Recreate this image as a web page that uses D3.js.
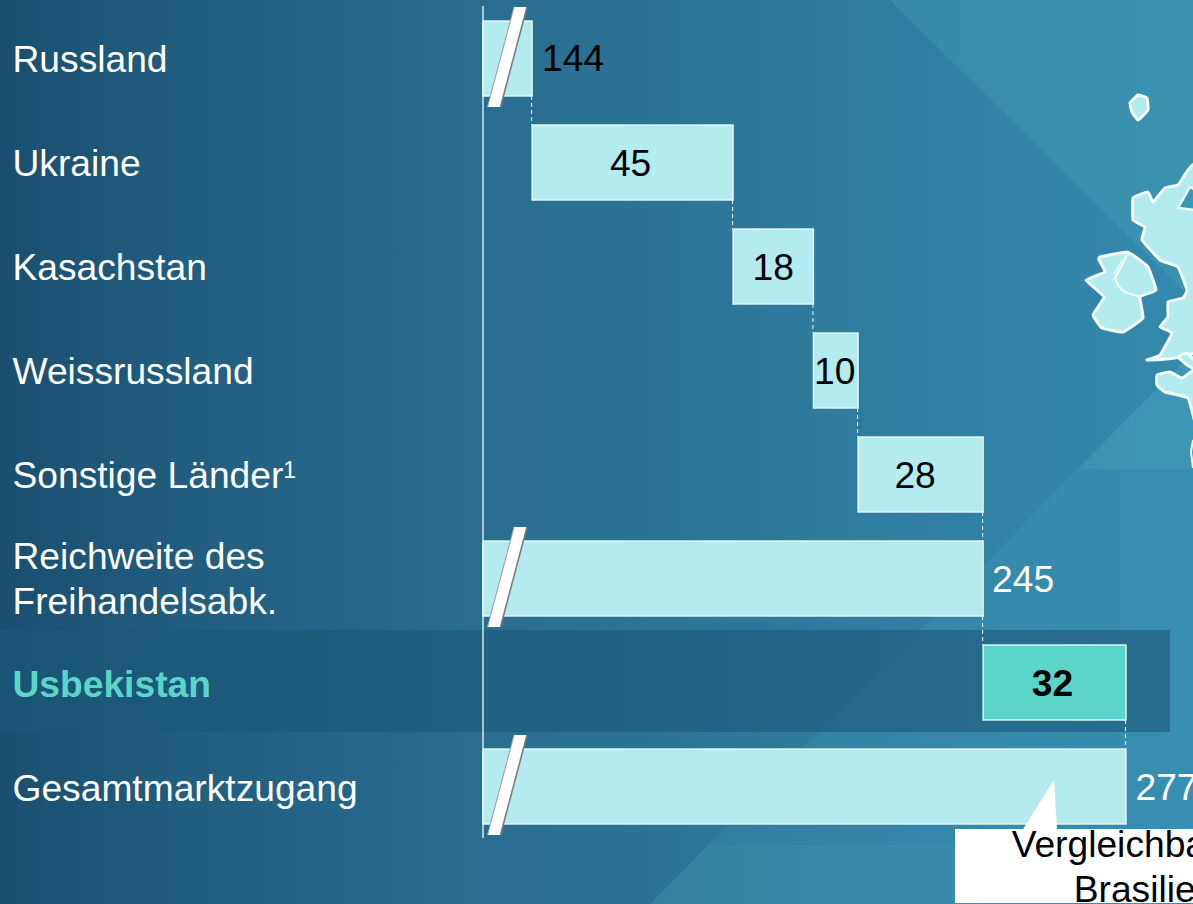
<!DOCTYPE html>
<html><head><meta charset="utf-8">
<script src="https://cdn.jsdelivr.net/npm/d3@7"></script>
<style>html,body{margin:0;padding:0;overflow:hidden;background:#2a7797}svg{display:block}text{font-family:"Liberation Sans",Arial,sans-serif}</style>
</head><body><svg id="c" width="1193" height="904"></svg>
<script>
const categories=["Russland","Ukraine","Kasachstan","Weissrussland","Sonstige Länder","Reichweite des|Freihandelsabk.","Usbekistan","Gesamtmarktzugang"];
const starts=[null,144,189,207,217,null,245,null];
const values=[144,45,18,10,28,245,32,277];
const broken=[true,false,false,false,false,true,false,true];
const outside=[true,false,false,false,false,true,false,true];
const labelColor=["#000","#000","#000","#000","#000","#fff","#000","#fff"];
const labelShift=[10,-2,0,-1,-5.5,9,-2,9.5];
const axisDomain=[133,277];
const noteLines=["Vergleichbar mit","Brasilien"];

const W=1193,H=904,FS=37.2;
const svg=d3.select("#c");
const defs=svg.append("defs");
const g=defs.append("linearGradient").attr("id","bg").attr("x1",0).attr("x2",1).attr("y1",0).attr("y2",0);
[[0,"#1a4e6e"],[0.15,"#215d7f"],[0.4,"#296d8f"],[0.55,"#2b7495"],[0.85,"#3283a6"],[1,"#3489ac"]].forEach(d=>g.append("stop").attr("offset",d[0]).attr("stop-color",d[1]));
svg.append("rect").attr("width",W).attr("height",H).attr("fill","url(#bg)");
const facet=(p,f,o)=>svg.append("path").attr("d",p).attr("fill",f).attr("opacity",o);
facet("M890,0L1193,0L1193,300Z","#5fc4c8",0.18);
facet("M1193,352L1193,904L650,904Z","#4fb0d0",0.16);
facet("M1193,352L1193,469L1078,469Z","#5fc4c8",0.14);
facet("M770,845L1193,845L1193,904L650,904L708,845Z","#6fc0b8",0.07);

const x=d3.scaleLinear().domain(axisDomain).range([483,1126]);
const y=d3.scaleBand().domain(d3.range(categories.length)).range([21,824]).paddingInner(29/104).paddingOuter(0);
const bh=y.bandwidth();

svg.append("rect").attr("x",0).attr("y",630).attr("width",1170).attr("height",102).attr("fill","#1d5878").attr("opacity",0.6);

const mapShapes=[
[[1130,103],[1138,95],[1147,98],[1148,110],[1138,120],[1132,112]],
[[1100,257],[1127,252],[1137,258],[1148,267],[1156,290],[1140,297],[1143,318],[1123,332],[1102,328],[1093,315],[1104,297],[1086,280],[1105,272],[1099,260]],
[[1196,168],[1188,170],[1178,185],[1165,188],[1153,202],[1148,192],[1133,198],[1133,220],[1145,227],[1142,240],[1160,260],[1178,267],[1187,290],[1183,298],[1168,302],[1168,317],[1160,327],[1172,333],[1160,355],[1147,360],[1196,350]],
[[1157,375],[1170,372],[1182,378],[1196,370],[1196,425],[1188,398],[1165,392],[1157,385]],
[[1178,357],[1187,353],[1196,362],[1196,370],[1187,365]]
];
const closed=d3.line().curve(d3.curveCardinalClosed.tension(0.7));
svg.append("g").selectAll("path").data(mapShapes).join("path").attr("d",d=>closed(d)).attr("fill","#b4ebee").attr("stroke","#f4fcfc").attr("stroke-width",3).attr("stroke-linejoin","round");
svg.append("path").attr("d","M1178,208L1190,187L1196,190L1196,210Z").attr("fill","#3a97b5").attr("stroke","#f4fcfc").attr("stroke-width",2.5).attr("stroke-linejoin","round");
svg.append("path").attr("d","M1127,255L1115,278Q1118,288 1125,292L1140,297").attr("stroke","#f4fcfc").attr("stroke-width",2.2).attr("fill","none");
svg.append("path").attr("d","M1122,260L1114,274").attr("stroke","#f4fcfc").attr("stroke-width",1.2).attr("fill","none");
svg.append("path").attr("d","M1193,440L1191,452L1193,468").attr("stroke","#f4fcfc").attr("stroke-width",2).attr("fill","none");

const ends=values.map((v,i)=>(starts[i]===null?v:starts[i]+v));
d3.range(categories.length-1).forEach(i=>{
  svg.append("line").attr("x1",x(ends[i])-0.5).attr("x2",x(ends[i])-0.5).attr("y1",y(i)+bh).attr("y2",y(i+1))
   .attr("stroke","#e6f6f8").attr("stroke-width",1).attr("stroke-dasharray","4 3");
});

const rowData=categories.map((c,i)=>({c,i}));
svg.append("g").selectAll("rect").data(rowData).join("rect")
 .attr("x",d=>x(starts[d.i]===null?axisDomain[0]:starts[d.i]))
 .attr("y",d=>y(d.i)).attr("height",bh)
 .attr("width",d=>x(ends[d.i])-x(starts[d.i]===null?axisDomain[0]:starts[d.i]))
 .attr("fill",d=>d.i===6?"#5bd5ca":"#b4ebee").attr("stroke","#e8f8f8").attr("stroke-width",1.4);

svg.append("line").attr("x1",483).attr("x2",483).attr("y1",6).attr("y2",838).attr("stroke","#eef6f8").attr("stroke-width",1.3);

rowData.filter(d=>broken[d.i]).forEach(d=>{
  const t=y(d.i)-14;
  svg.append("path").attr("d",`M514,${t}L527,${t}L500.5,${t+100}L487.5,${t+100}Z`).attr("fill","#fff");
  svg.append("path").attr("d",`M527,${t}L500.5,${t+100}`).attr("stroke","#7e7e7e").attr("stroke-width",1.6).attr("fill","none");
  svg.append("path").attr("d",`M514,${t}L487.5,${t+100}`).attr("stroke","#9a9a9a").attr("stroke-width",1).attr("fill","none");
});

rowData.forEach(d=>{
  const lines=d.c.split("|");
  const cy=y(d.i)+bh/2;
  const t=svg.append("text").attr("font-size",FS)
    .attr("fill",d.i===6?"#5bd5ca":"#fff").attr("font-weight",d.i===6?"bold":"normal");
  lines.forEach((l,k)=>{
    t.append("tspan").attr("x",12.5).attr("y",cy+13.5+(d.i>5?1:0)+(k-(lines.length-1)/2)*45-(lines.length>1?1:0)).text(l);
  });
  if(d.i===4) t.append("tspan").attr("font-size",23).attr("dy",-10).text("1");
});

rowData.forEach(d=>{
  const i=d.i;
  const st=starts[i]===null?axisDomain[0]:starts[i];
  const cx=outside[i]?x(ends[i])+labelShift[i]:(x(st)+x(ends[i]))/2+labelShift[i];
  svg.append("text").attr("x",cx).attr("y",y(i)+bh/2+(i===0?12:13))
   .attr("text-anchor",outside[i]?"start":"middle").attr("font-size",FS)
   .attr("font-weight",i===6?"bold":"normal").attr("fill",labelColor[i]).text(values[i]);
});

svg.append("path").attr("d","M1023,829L1054,780L1057,829Z").attr("fill","#fff");
svg.append("rect").attr("x",955).attr("y",829).attr("width",238).attr("height",74).attr("fill","#fff");
noteLines.forEach((l,k)=>svg.append("text").attr("x",1145).attr("y",857+k*45).attr("text-anchor","middle").attr("font-size",FS).attr("fill","#000").text(l));
</script></body></html>
